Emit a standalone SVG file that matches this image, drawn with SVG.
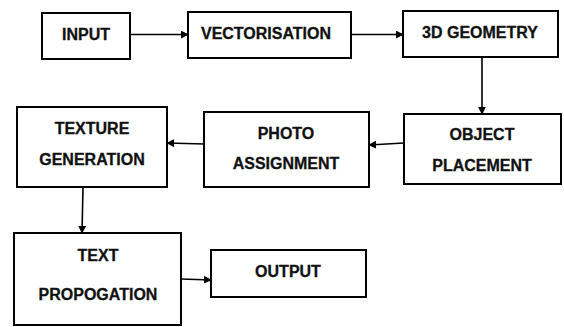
<svg xmlns="http://www.w3.org/2000/svg" width="564" height="327" viewBox="0 0 564 327">
<style>
.box{fill:#fff;stroke:#000;stroke-width:2}
.t{font-family:"Liberation Sans",Arial,sans-serif;font-weight:bold;font-size:16px;fill:#111;text-anchor:middle;stroke:#111;stroke-width:0.3}
.c{stroke:#000;stroke-width:1.6;fill:none;marker-end:url(#ah)}
</style>
<defs>
<marker id="ah" viewBox="0 0 10 10" refX="9" refY="5" markerWidth="5" markerHeight="5" orient="auto" markerUnits="strokeWidth">
<path d="M0,0 L10,5 L0,10 z" fill="#000"/>
</marker>
</defs>
<rect width="564" height="327" fill="#fff"/>
<g id="connectors">
<line class="c" x1="130" y1="34.5" x2="188" y2="34.5"/>
<line class="c" x1="351" y1="34.5" x2="403" y2="34.5"/>
<line class="c" x1="482" y1="58" x2="482" y2="114"/>
<line class="c" x1="404" y1="143" x2="369" y2="145"/>
<line class="c" x1="204" y1="144" x2="167" y2="143"/>
<line class="c" x1="83" y1="187" x2="82" y2="233"/>
<line class="c" x1="181" y1="279" x2="211" y2="280"/>
</g>
<g id="input">
<rect class="box" x="42" y="13" width="88" height="46"/>
<text class="t" x="86" y="40">INPUT</text>
</g>
<g id="vectorisation">
<rect class="box" x="188" y="12" width="163" height="46"/>
<text class="t" x="266" y="39">VECTORISATION</text>
</g>
<g id="geometry">
<rect class="box" x="403" y="11" width="155" height="46"/>
<text class="t" x="480" y="38">3D GEOMETRY</text>
</g>
<g id="object-placement">
<rect class="box" x="404" y="114" width="157" height="70"/>
<text class="t" x="482" y="140">OBJECT</text>
<text class="t" x="482" y="171">PLACEMENT</text>
</g>
<g id="photo-assignment">
<rect class="box" x="204" y="112" width="165" height="75"/>
<text class="t" x="286" y="139">PHOTO</text>
<text class="t" x="286" y="169">ASSIGNMENT</text>
</g>
<g id="texture-generation">
<rect class="box" x="17" y="107" width="150" height="80"/>
<text class="t" x="92" y="134">TEXTURE</text>
<text class="t" x="92" y="165">GENERATION</text>
</g>
<g id="text-propogation">
<rect class="box" x="14" y="233" width="167" height="92"/>
<text class="t" x="98" y="261">TEXT</text>
<text class="t" x="98" y="300">PROPOGATION</text>
</g>
<g id="output">
<rect class="box" x="211" y="250" width="155" height="47"/>
<text class="t" x="288" y="277">OUTPUT</text>
</g>
</svg>
